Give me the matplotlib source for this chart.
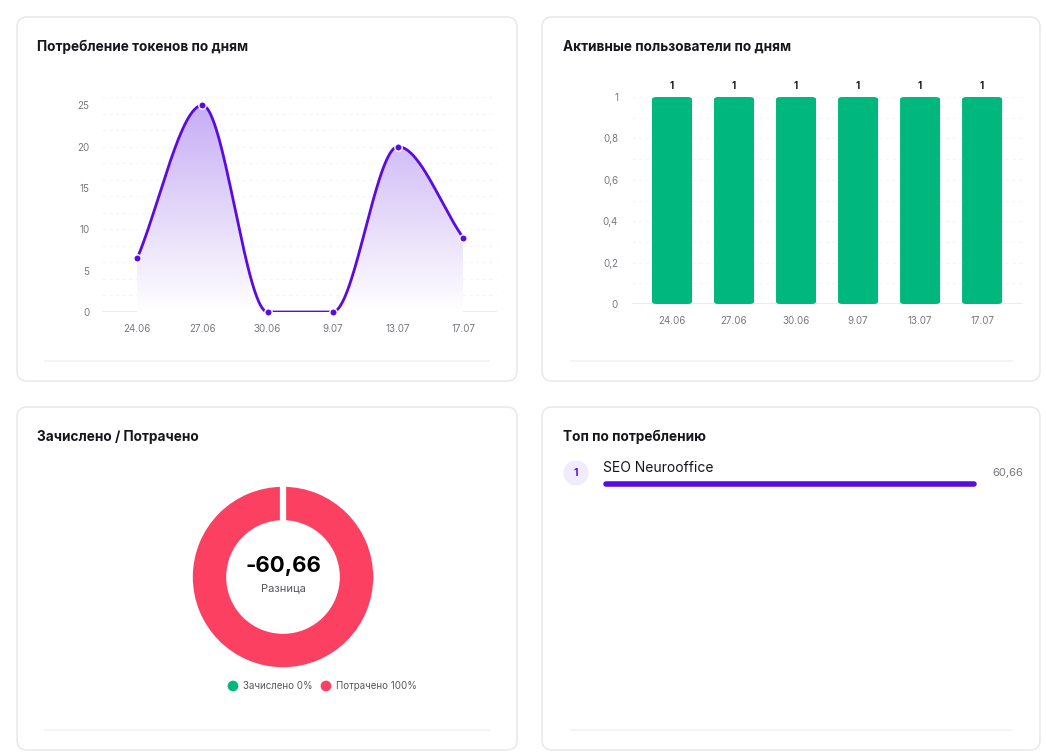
import numpy as np
import matplotlib
matplotlib.use("Agg")
import matplotlib.pyplot as plt
from matplotlib.patches import FancyBboxPatch, Polygon, Circle

plt.rcParams["font.family"] = ["Inter", "DejaVu Sans"]

# данные
days = ["24.06", "27.06", "30.06", "9.07", "13.07", "17.07"]
tokens = [6.5, 25, 0, 0, 20, 9]
users = [1, 1, 1, 1, 1, 1]
credited_pct = 0
spent_pct = 100
difference = "-60,66"
top_names = ["SEO Neurooffice"]
top_values = [60.66]

W, H = 1046, 755
PURPLE = "#5A0BDF"
GREEN = "#00B87E"
RED = "#FB4062"
GRAY = "#77777F"
DARK = "#16161D"

fig = plt.figure(figsize=(W / 100, H / 100), dpi=100)
fig.patch.set_facecolor("white")


def px_axes(x, y, w, h, **kw):
    return fig.add_axes([x / W, 1 - (y + h) / H, w / W, h / H], **kw)


# фон с карточками
bg = px_axes(0, 0, W, H)
bg.set_xlim(0, W)
bg.set_ylim(H, 0)
bg.axis("off")
for (cx, cy, cw, ch) in [(17, 17, 500, 364), (542, 17, 498, 364),
                         (17, 407, 500, 343), (542, 407, 498, 343)]:
    bg.add_patch(FancyBboxPatch((cx, cy), cw, ch, boxstyle="round,pad=0,rounding_size=10",
                                fc="white", ec="#E6E6EC", lw=1))
for (x0, x1, y) in [(37, 497, 361), (563, 1020, 361), (37, 497, 730), (563, 1020, 730)]:
    bg.plot([x0 + 8, x1 - 8], [y, y], color="#F2F2F5", lw=1.2)

title_kw = dict(fontsize=9.8, fontweight="bold", color=DARK, va="center", ha="left")
bg.text(37, 47, "Потребление токенов по дням", **title_kw)
bg.text(563, 47, "Активные пользователи по дням", **title_kw)
bg.text(37, 437, "Зачислено / Потрачено", **title_kw)
bg.text(563, 437, "Топ по потреблению", **title_kw)


def pchip(y, n=60):
    # монотонная кубическая кривая через точки, только для отрисовки линии
    y = np.asarray(y, float)
    x = np.arange(len(y), dtype=float)
    d = np.diff(y)
    m = np.zeros_like(y)
    for i in range(1, len(y) - 1):
        if d[i - 1] * d[i] > 0:
            m[i] = 2 * d[i - 1] * d[i] / (d[i - 1] + d[i])
    m[0] = d[0]
    m[-1] = d[-1]
    xs, ys = [], []
    for i in range(len(y) - 1):
        t = np.linspace(0, 1, n)
        h00 = 2 * t**3 - 3 * t**2 + 1
        h10 = t**3 - 2 * t**2 + t
        h01 = -2 * t**3 + 3 * t**2
        h11 = t**3 - t**2
        xs.append(x[i] + t)
        ys.append(h00 * y[i] + h10 * m[i] + h01 * y[i + 1] + h11 * m[i + 1])
    return np.concatenate(xs), np.concatenate(ys)


# 1. линия токенов
ax1 = px_axes(102, 97, 395, 215)
ax1.set_xlim(-0.54, 5.52)
ax1.set_ylim(0, 26)
for v in np.arange(2, 27, 2):
    ax1.axhline(v, color="#F5F5F8", lw=0.8, ls=(0, (3, 3)), zorder=0)
ax1.axhline(0, color="#E8E8ED", lw=1.2, zorder=1)
xs, ys = pchip(tokens)
grad = np.linspace(0, 1, 256).reshape(-1, 1)
cmap = matplotlib.colors.LinearSegmentedColormap.from_list(
    "g", [(1, 1, 1, 1), (0.78, 0.68, 0.96, 1)])
im = ax1.imshow(grad, extent=[0, 5, 0, 25], origin="lower", aspect="auto", cmap=cmap, zorder=1)
poly = Polygon(np.column_stack([np.r_[xs, xs[-1], xs[0]], np.r_[ys, 0, 0]]),
               closed=True, fc="none", ec="none", transform=ax1.transData)
ax1.add_patch(poly)
im.set_clip_path(poly)
ax1.plot(xs, ys, color=PURPLE, lw=2, zorder=3)
ax1.scatter(range(len(tokens)), tokens, s=28, color=PURPLE, edgecolor="white", lw=1, zorder=4, clip_on=False)
ax1.set_xticks(range(len(days)))
ax1.set_xticklabels(days)
ax1.set_yticks(range(0, 26, 5))
ax1.tick_params(length=0, labelsize=7, labelcolor=GRAY, pad=9)
for s in ax1.spines.values():
    s.set_visible(False)
ax1.patch.set_alpha(0)

# 2. столбцы пользователей
ax2 = px_axes(632, 97, 391, 207)
ax2.set_xlim(-0.645, 5.66)
ax2.set_ylim(0, 1)
for v in np.arange(0.1, 1.01, 0.1):
    ax2.axhline(v, color="#F5F5F8", lw=0.8, ls=(0, (3, 3)), zorder=0)
ax2.axhline(0, color="#E8E8ED", lw=1.2, zorder=1)
bw = 0.645
for i, v in enumerate(users):
    ax2.add_patch(FancyBboxPatch((i - bw / 2, 0), bw, v,
                                 boxstyle="round,pad=0,rounding_size=0.07",
                                 mutation_aspect=1 / 6.0, fc=GREEN, ec="none", zorder=2))
    ax2.text(i, v + 0.03, str(v), ha="center", va="bottom", fontsize=7,
             fontweight="bold", color=DARK, clip_on=False)
ax2.set_xticks(range(len(days)))
ax2.set_xticklabels(days)
ax2.set_yticks(np.arange(0, 1.01, 0.2))
ax2.set_yticklabels(["0", "0,2", "0,4", "0,6", "0,8", "1"])
ax2.tick_params(length=0, labelsize=7, labelcolor=GRAY)
ax2.tick_params(axis="x", pad=9)
ax2.tick_params(axis="y", pad=10)
for s in ax2.spines.values():
    s.set_visible(False)
ax2.patch.set_alpha(0)

# 3. кольцо
ax3 = px_axes(191, 485, 184, 184)
ax3.pie([credited_pct, spent_pct], colors=[GREEN, RED], startangle=90, counterclock=False,
        radius=1, wedgeprops=dict(width=0.37, edgecolor="none", linewidth=0))
ax3.plot([0, 0], [0.55, 1.05], color="white", lw=4.5, solid_capstyle="butt")
ax3.set_xlim(-1.02, 1.02)
ax3.set_ylim(-1.02, 1.02)
ax3.set_aspect("equal")
bg.text(283, 566, difference, ha="center", va="center", fontsize=16, fontweight="bold", color="black")
bg.text(283, 588, "Разница", ha="center", va="center", fontsize=8, color="#55555C")
bg.scatter([233, 326], [686, 686], s=45, color=[GREEN, RED], zorder=3)
bg.text(243, 686, f"Зачислено {credited_pct}%", ha="left", va="center", fontsize=7, color="#55555C")
bg.text(336, 686, f"Потрачено {spent_pct}%", ha="left", va="center", fontsize=7, color="#55555C")

# 4. топ
bg.add_patch(Circle((576, 473), 12.5, fc="#F1ECFD", ec="none"))
bg.text(576, 473, "1", ha="center", va="center", fontsize=7.5, fontweight="bold", color=PURPLE)
for i, (name, val) in enumerate(zip(top_names, top_values)):
    bg.text(603, 468, name, ha="left", va="center", fontsize=10, color=DARK)
    bg.text(1023, 473, f"{val:.2f}".replace(".", ","), ha="right", va="center", fontsize=8, color=GRAY)
ax4 = px_axes(606, 480, 368, 8)
ax4.set_xlim(0, max(top_values))
ax4.set_ylim(-1, 1)
ax4.plot([0, top_values[0]], [0, 0], color=PURPLE, lw=4, solid_capstyle="round", clip_on=False)
ax4.axis("off")

fig.savefig("out.png", dpi=100, facecolor="white")
